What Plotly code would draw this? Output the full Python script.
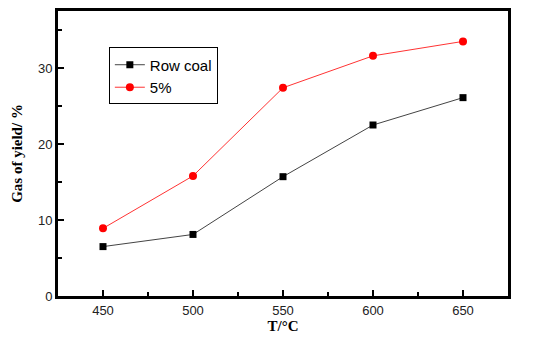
import plotly.graph_objects as go

temps = [450, 500, 550, 600, 650]
row_coal = [6.5, 8.1, 15.7, 22.5, 26.1]
pct5 = [8.9, 15.8, 27.4, 31.6, 33.5]
x_ticks = [450, 500, 550, 600, 650]
y_ticks = [0, 10, 20, 30]

fig = go.Figure()
fig.add_trace(go.Scatter(x=temps, y=row_coal, name="Row coal", mode="lines+markers",
                         line=dict(color="#444444", width=1),
                         marker=dict(symbol="square", size=7, color="black")))
fig.add_trace(go.Scatter(x=temps, y=pct5, name="5%", mode="lines+markers",
                         line=dict(color="#ff3333", width=1),
                         marker=dict(symbol="circle", size=8, color="#ff0000")))

axis_common = dict(showline=True, linewidth=3, linecolor="black", mirror=True,
                   showgrid=False, zeroline=False, ticks="inside", ticklen=6,
                   tickwidth=2, tickcolor="black",
                   tickfont=dict(family="Liberation Sans, Arial", size=13, color="#222"))

title_font = dict(family="Liberation Serif, Times New Roman", size=15, color="black", weight="bold")

fig.update_xaxes(range=[425, 675], tickvals=x_ticks,
                 minor=dict(ticks="inside", dtick=25, tick0=425, ticklen=4, tickwidth=2, tickcolor="black"),
                 title=dict(text="T/°C", font=title_font, standoff=3),
                 **axis_common)
fig.update_yaxes(range=[0, 37.5], tickvals=y_ticks,
                 minor=dict(ticks="inside", dtick=5, tick0=0, ticklen=4, tickwidth=2, tickcolor="black"),
                 title=dict(text="Gas of yield/ %", font=title_font, standoff=12),
                 **axis_common)

fig.update_layout(
    width=528, height=332,
    margin=dict(l=50, r=28, t=0, b=44),
    plot_bgcolor="white", paper_bgcolor="white",
    legend=dict(x=0.113, y=0.872, xanchor="left", yanchor="top",
                bordercolor="black", borderwidth=1, bgcolor="white",
                font=dict(family="Liberation Sans, Arial", size=15, color="black"),
                tracegroupgap=0, itemwidth=30),
)

fig.write_html("out.html")
